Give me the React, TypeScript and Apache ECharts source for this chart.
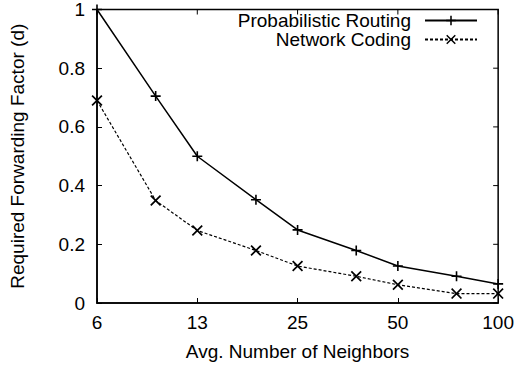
import React, { useEffect, useRef } from "react";
import * as echarts from "echarts";

const neighbors = [6.25, 9.375, 12.5, 18.75, 25, 37.5, 50, 75, 100];
const tickLabels = ["6", "13", "25", "50", "100"];
const yTicks = [0, 0.2, 0.4, 0.6, 0.8, 1];
const probabilisticRouting = [1.0, 0.705, 0.5, 0.352, 0.249, 0.179, 0.126, 0.091, 0.065];
const networkCoding = [0.69, 0.349, 0.247, 0.179, 0.126, 0.091, 0.062, 0.032, 0.032];

const FONT = "Liberation Sans, Arial, Helvetica, sans-serif";
const FS = 19;
const PLUS = "path://M4.2,0H5.8V4.2H10V5.8H5.8V10H4.2V5.8H0V4.2H4.2Z";
const CROSS =
  "path://M0,1.1L1.1,0L5,3.9L8.9,0L10,1.1L6.1,5L10,8.9L8.9,10L5,6.1L1.1,10L0,8.9L3.9,5Z";

const pos = (n: number) => Math.log2(n / neighbors[0]);

export default function App() {
  const ref = useRef<HTMLDivElement>(null);
  useEffect(() => {
    if (!ref.current) return;
    const chart = echarts.init(ref.current, undefined, { renderer: "svg" });
    const axisCommon = {
      axisLine: { show: true, onZero: false, lineStyle: { color: "#000", width: 1.5 } },
      axisTick: { show: true, inside: true, length: 5, lineStyle: { color: "#000", width: 1 } },
      splitLine: { show: false },
    };
    chart.setOption({
      animation: false,
      backgroundColor: "#fff",
      textStyle: { fontFamily: FONT },
      grid: { left: 96, right: 16, top: 8, bottom: 64, containLabel: false },
      legend: {
        orient: "vertical",
        right: 39,
        top: 11,
        padding: 0,
        align: "right",
        itemWidth: 52,
        itemHeight: 12,
        itemGap: 0,
        textStyle: {
          fontFamily: FONT,
          fontSize: FS,
          lineHeight: 19,
          color: "#000",
          padding: [0, 9, 0, 0],
        },
        data: ["Probabilistic Routing", "Network Coding"],
      },
      xAxis: {
        type: "value",
        min: 0,
        max: tickLabels.length - 1,
        interval: 1,
        ...axisCommon,
        axisLabel: {
          fontSize: FS,
          color: "#000",
          margin: 10,
          fontFamily: FONT,
          formatter: (v: number) => tickLabels[Math.round(v)] ?? "",
        },
        name: "Avg. Number of Neighbors",
        nameLocation: "middle",
        nameGap: 39,
        nameTextStyle: { fontSize: FS, color: "#000", fontFamily: FONT },
      },
      yAxis: {
        type: "value",
        min: 0,
        max: 1,
        interval: 0.2,
        ...axisCommon,
        axisLabel: {
          fontSize: FS,
          color: "#000",
          margin: 12,
          fontFamily: FONT,
          formatter: (v: number) => String(Math.round(v * 10) / 10),
        },
        name: "Required Forwarding Factor (d)",
        nameLocation: "middle",
        nameGap: 70,
        nameTextStyle: { fontSize: FS, color: "#000", fontFamily: FONT },
      },
      series: [
        {
          name: "Probabilistic Routing",
          type: "line",
          data: neighbors.map((n, i) => [pos(n), probabilisticRouting[i]]),
          symbol: PLUS,
          symbolSize: 10,
          showAllSymbol: true,
          lineStyle: { color: "#000", width: 1.5, type: "solid" },
          itemStyle: { color: "#000" },
        },
        {
          name: "Network Coding",
          type: "line",
          data: neighbors.map((n, i) => [pos(n), networkCoding[i]]),
          symbol: CROSS,
          symbolSize: 11,
          showAllSymbol: true,
          lineStyle: { color: "#000", width: 1.2, type: [3, 2] },
          itemStyle: { color: "#000" },
        },
      ],
    });

    // Frame and mirrored ticks (top / right) derived from the axes' own scales
    const finder = { xAxisIndex: 0, yAxisIndex: 0 };
    const [xL, yB] = chart.convertToPixel(finder, [0, 0]) as number[];
    const [xR, yT] = chart.convertToPixel(finder, [tickLabels.length - 1, 1]) as number[];
    const elements: any[] = [
      {
        type: "rect",
        z: 10,
        shape: { x: xL, y: yT, width: xR - xL, height: yB - yT },
        style: { fill: "none", stroke: "#000", lineWidth: 1.5 },
      },
    ];
    tickLabels.forEach((_, i) => {
      const [px] = chart.convertToPixel(finder, [i, 1]) as number[];
      elements.push({
        type: "line",
        z: 10,
        shape: { x1: px, y1: yT, x2: px, y2: yT + 5 },
        style: { stroke: "#000", lineWidth: 1 },
      });
    });
    yTicks.forEach((v) => {
      const [, py] = chart.convertToPixel(finder, [0, v]) as number[];
      elements.push({
        type: "line",
        z: 10,
        shape: { x1: xR, y1: py, x2: xR - 5, y2: py },
        style: { stroke: "#000", lineWidth: 1 },
      });
    });
    chart.setOption({ graphic: { elements } });

    return () => chart.dispose();
  }, []);
  return (
    <div
      ref={ref}
      style={{ position: "fixed", left: 0, top: 0, width: 517, height: 367 }}
    />
  );
}
